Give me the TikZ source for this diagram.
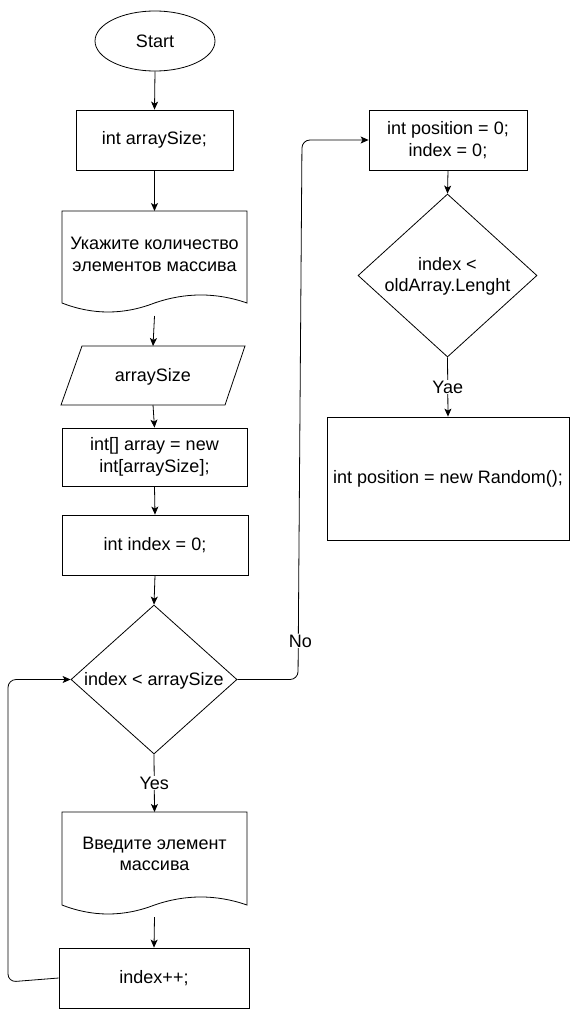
\documentclass[tikz,border=0pt]{standalone}
\usepackage{fontspec}
\setmainfont{Liberation Sans}
\usetikzlibrary{shapes.geometric,arrows.meta}
\begin{document}
\begin{tikzpicture}[x=1pt,y=-1pt,
  every node/.style={font=\fontsize{18}{21.5}\selectfont, align=center, inner sep=0pt},
  box/.style={draw=black, line width=0.8pt, rectangle},
  oval/.style={draw=black, line width=0.8pt, ellipse},
  dia/.style={draw=black, line width=0.8pt, diamond},
  outline/.style={draw=black, line width=0.8pt},
  conn/.style={draw=black, line width=0.8pt, -{Stealth[length=8pt,width=7pt,inset=2pt]}},
  lbl/.style={fill=white, inner sep=1pt}
]
\useasboundingbox (0,0) rectangle (570,1009);
% left column
\node[oval, minimum width=120pt, minimum height=60pt] (start) at (155,41) {Start};
\node[box, minimum width=157pt, minimum height=60pt] (b1) at (154.5,140) {int arraySize;};
\draw[outline] (62,211) -- (247,211) -- (247,303)
  .. controls (216.3,292.3) and (185.5,292.3) .. (154.5,303)
  .. controls (123.5,315) and (92.7,315) .. (62,303) -- cycle;
\node (doc1) at (154.5,254.5) {Укажите количество\\элементов массива};
\coordinate (doc1top) at (154.5,211);
\coordinate (doc1bot) at (154.5,316);
\draw[outline] (82,346) -- (245,346) -- (225,405) -- (61,405) -- cycle;
\node (par) at (153,377) {arraySize};
\coordinate (partop) at (153,346);
\coordinate (parbot) at (153,405);
\node[box, minimum width=185pt, minimum height=58pt] (b2) at (154.5,457) {int[] array = new\\int[arraySize];};
\node[box, minimum width=186pt, minimum height=60pt] (b3) at (155,545) {int index = 0;};
\node[dia, minimum width=166pt, minimum height=149pt] (d1) at (154,679.5) {};
\node (d1t) at (154,681) {index < arraySize};
\draw[outline] (62,812) -- (247,812) -- (247,905)
  .. controls (216.3,894.3) and (185.5,894.3) .. (154.5,905)
  .. controls (123.5,917) and (92.7,917) .. (62,905) -- cycle;
\node (doc2) at (154.5,854) {Введите элемент\\массива};
\coordinate (doc2top) at (154.5,812);
\coordinate (doc2bot) at (154.5,917);
\node[box, minimum width=190pt, minimum height=60pt] (b4) at (154,978) {index++;};
% right column
\node[box, minimum width=158pt, minimum height=60pt] (p1) at (448,140) {int position = 0;\\index = 0;};
\node[dia, minimum width=179pt, minimum height=163pt] (d2) at (447.5,275.5) {};
\node (d2t) at (447.5,276.5) {index <\\oldArray.Lenght};
\node[box, minimum width=242pt, minimum height=123pt] (b5) at (448,478.5) {int position = new Random();};
% connectors
\draw[conn] (start.south) -- (b1.north);
\draw[conn] (b1.south) -- (doc1top);
\draw[conn] (doc1bot) -- (partop);
\draw[conn] (parbot) -- (b2.north);
\draw[conn] (b2.south) -- (b3.north);
\draw[conn] (b3.south) -- (d1.north);
\draw[conn] (d1.south) -- node[lbl, pos=0.5] (yes) {Yes} (doc2top);
\draw[conn] (doc2bot) -- (b4.north);
\coordinate (lp1) at (8,982);
\coordinate (lp2) at (8,679.5);
\draw[conn, rounded corners=8pt] (b4.west) -- (lp1) -- (lp2) -- (d1.west);
\coordinate (np1) at (298,679.5);
\coordinate (np2) at (302,140);
\draw[conn, rounded corners=8pt] (d1.east) -- (np1) -- (np2) -- (p1.west);
\node[lbl] (no) at (300.5,641) {No};
\draw[conn] (p1.south) -- (d2.north);
\draw[conn] (d2.south) -- node[lbl, pos=0.5] (yae) {Yae} (b5.north);
\end{tikzpicture}
\end{document}
